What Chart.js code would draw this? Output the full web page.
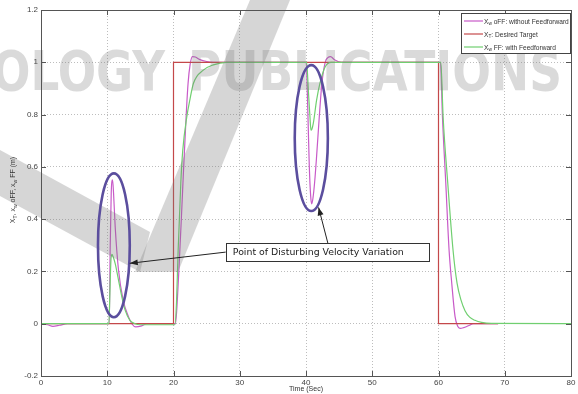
<!DOCTYPE html>
<html>
<head>
<meta charset="utf-8">
<script src="https://cdn.jsdelivr.net/npm/chart.js@4.4.1/dist/chart.umd.min.js"></script>
<style>
  html, body { margin: 0; padding: 0; background: #fff; }
  #wrap { width: 578px; height: 394px; }
</style>
</head>
<body>
<div id="wrap"><canvas id="chart-grafic" width="578" height="394"></canvas></div>
<script>
/* X_w oFF: without feedforward */
const offTime = [0, 1, 1.8, 2.8, 4, 10.3, 10.45, 10.6, 10.8, 10.95, 11.2, 11.7, 12.4, 13.2, 13.7, 14.3, 15.2, 16,
  20.3, 20.6, 20.9, 21.2, 21.5, 21.9, 22.2, 22.5, 22.85, 23.3, 24, 25, 26,
  40, 40.1, 40.3, 40.5, 40.7, 40.86, 41.05, 41.3, 41.6, 42, 42.4, 42.9, 43.3, 43.7, 44.3, 45.4,
  60.3, 60.6, 61.1, 61.6, 62, 62.5, 62.9, 63.25, 63.8, 64.5, 65.3, 69]
const offValues = [0, -0.004, -0.01, -0.006, 0, 0, 0.3, 0.5, 0.55, 0.5, 0.37, 0.205, 0.09, 0.027, 0, -0.012, -0.008, 0,
  0, 0.1, 0.25, 0.41, 0.58, 0.79, 0.92, 0.99, 1.022, 1.02, 1.01, 1.003, 1,
  1, 0.97, 0.79, 0.6, 0.49, 0.458, 0.48, 0.54, 0.64, 0.79, 0.92, 1, 1.018, 1.022, 1.01, 1,
  1, 0.79, 0.537, 0.28, 0.155, 0.027, -0.01, -0.018, -0.015, -0.008, 0, 0]

/* X_T: desired target */
const targetTime = [0, 20, 20, 60, 60, 69]
const targetValues = [0, 0, 1, 1, 0, 0]

/* X_w FF: with feedforward */
const ffTime = [0, 10.25, 10.4, 10.55, 10.7, 10.9, 11.2, 11.7, 12.2, 12.7, 13.4, 14.2, 15,
  20.2, 20.45, 20.7, 21.1, 21.4, 22, 22.5, 23, 24.5, 26, 28,
  40.1, 40.35, 40.6, 40.75, 40.9, 41.1, 41.6, 42.1, 42.9, 43.8,
  60.35, 60.7, 61.4, 62.2, 62.8, 63.4, 64, 64.7, 65.5, 66.5, 68, 80]
const ffValues = [0, 0, 0.12, 0.24, 0.265, 0.255, 0.23, 0.167, 0.103, 0.052, 0.014, 0, -0.004,
  -0.004, 0.08, 0.28, 0.537, 0.664, 0.79, 0.86, 0.919, 0.97, 0.99, 1,
  1, 0.894, 0.79, 0.74, 0.745, 0.766, 0.855, 0.919, 0.983, 1,
  1, 0.79, 0.537, 0.28, 0.155, 0.09, 0.05, 0.025, 0.013, 0.005, 0.001, 0]

const xTicks = [0, 10, 20, 30, 40, 50, 60, 70, 80]
const yTicks = [-0.2, 0, 0.2, 0.4, 0.6, 0.8, 1, 1.2]

const legendLabels = [
  [['X', 0], ['w', 1], [' oFF: without Feedforward', 0]],
  [['X', 0], ['T', 1], [': Desired Target', 0]],
  [['X', 0], ['w', 1], [' FF: with Feedforward', 0]]
]
const yTitle = [['X', 0], ['T', 1], [', x', 0], ['w', 1], [' oFF, x', 0], ['w', 1], [' FF (m)', 0]]
const xTitle = 'Time (Sec)'
const noteText = 'Point of Disturbing Velocity Variation'

const colors = ['#c85ac8', '#c4484a', '#70cf70']
const narrow = '"Liberation Sans Narrow", "Liberation Sans", Arial, sans-serif'

/* ellipses and note, in data units */
const rings = [{ x: 11.0, y: 0.30, rx: 2.4, ry: 0.275 }, { x: 40.8, y: 0.71, rx: 2.5, ry: 0.279 }]
const noteBox = { x0: 27.9, x1: 58.6, y0: 0.24, y1: 0.308 }
const arrows = [
  { from: [27.9, 0.274], to: [13.4, 0.231] },
  { from: [43.3, 0.308], to: [41.9, 0.445] }
]

function toPoints(t, v) {
  return t.map((x, i) => ({ x: x, y: v[i] }))
}

function partsWidth(ctx, parts, size, family) {
  let w = 0
  parts.forEach(p => {
    ctx.font = (p[1] ? size * 0.72 : size) + 'px ' + family
    w += ctx.measureText(p[0]).width
  })
  return w
}

function drawParts(ctx, parts, x, y, size, family) {
  parts.forEach(p => {
    ctx.font = (p[1] ? size * 0.72 : size) + 'px ' + family
    ctx.fillText(p[0], x, p[1] ? y + size * 0.3 : y)
    x += ctx.measureText(p[0]).width
  })
}

const watermark = {
  id: 'watermark',
  afterDatasetsDraw(chart) {
    const ctx = chart.ctx
    ctx.save()
    ctx.fillStyle = 'rgba(120,120,120,0.3)'
    ctx.beginPath()
    ctx.moveTo(0, 150); ctx.lineTo(150, 232); ctx.lineTo(140, 272); ctx.lineTo(0, 196)
    ctx.closePath(); ctx.fill()
    ctx.beginPath()
    ctx.moveTo(135, 272); ctx.lineTo(178, 272); ctx.lineTo(290, 0); ctx.lineTo(250, 0)
    ctx.closePath(); ctx.fill()
    ctx.fillStyle = 'rgba(120,120,120,0.27)'
    ctx.font = 'bold 56px "DejaVu Sans", sans-serif'
    ctx.textBaseline = 'alphabetic'
    const words = [['OLOGY', -8, 165], ['PUBLICATIONS', 188, 562]]
    words.forEach(w => {
      const m = ctx.measureText(w[0]).width
      ctx.save()
      ctx.translate(w[1], 90)
      ctx.scale((w[2] - w[1]) / m, 1)
      ctx.fillText(w[0], 0, 0)
      ctx.restore()
    })
    ctx.restore()
  }
}

const notes = {
  id: 'notes',
  afterDatasetsDraw(chart) {
    const ctx = chart.ctx, xs = chart.scales.x, ys = chart.scales.y
    ctx.save()
    ctx.strokeStyle = '#5b4e9e'
    ctx.lineWidth = 2.6
    rings.forEach(r => {
      const cx = xs.getPixelForValue(r.x), cy = ys.getPixelForValue(r.y)
      const rx = Math.abs(xs.getPixelForValue(r.x + r.rx) - cx)
      const ry = Math.abs(ys.getPixelForValue(r.y + r.ry) - cy)
      ctx.beginPath()
      ctx.ellipse(cx, cy, rx, ry, 0, 0, Math.PI * 2)
      ctx.stroke()
    })
    ctx.strokeStyle = '#222'
    ctx.fillStyle = '#222'
    ctx.lineWidth = 1
    arrows.forEach(a => {
      const x0 = xs.getPixelForValue(a.from[0]), y0 = ys.getPixelForValue(a.from[1])
      const x1 = xs.getPixelForValue(a.to[0]), y1 = ys.getPixelForValue(a.to[1])
      const ang = Math.atan2(y1 - y0, x1 - x0)
      ctx.beginPath(); ctx.moveTo(x0, y0); ctx.lineTo(x1, y1); ctx.stroke()
      ctx.beginPath()
      ctx.moveTo(x1, y1)
      ctx.lineTo(x1 - 8 * Math.cos(ang) + 3 * Math.sin(ang), y1 - 8 * Math.sin(ang) - 3 * Math.cos(ang))
      ctx.lineTo(x1 - 8 * Math.cos(ang) - 3 * Math.sin(ang), y1 - 8 * Math.sin(ang) + 3 * Math.cos(ang))
      ctx.closePath(); ctx.fill()
    })
    const bx0 = xs.getPixelForValue(noteBox.x0), bx1 = xs.getPixelForValue(noteBox.x1)
    const by0 = ys.getPixelForValue(noteBox.y1), by1 = ys.getPixelForValue(noteBox.y0)
    ctx.fillStyle = '#fff'
    ctx.fillRect(bx0, by0, bx1 - bx0, by1 - by0)
    ctx.strokeStyle = '#333'
    ctx.strokeRect(Math.round(bx0) + 0.5, Math.round(by0) + 0.5, Math.round(bx1 - bx0), Math.round(by1 - by0))
    ctx.font = '10px "DejaVu Sans", sans-serif'
    const size = 10 * 171 / ctx.measureText(noteText).width
    ctx.font = size + 'px "DejaVu Sans", sans-serif'
    ctx.fillStyle = '#222'
    ctx.textBaseline = 'middle'
    ctx.fillText(noteText, bx0 + 7, (by0 + by1) / 2 + 0.5)
    ctx.restore()
  }
}

const frame = {
  id: 'frame',
  afterDraw(chart) {
    const ctx = chart.ctx, a = chart.chartArea, xs = chart.scales.x, ys = chart.scales.y
    ctx.save()
    ctx.strokeStyle = '#555'
    ctx.lineWidth = 1
    ctx.strokeRect(Math.round(a.left) + 0.5, Math.round(a.top) + 0.5, Math.round(a.right - a.left), Math.round(a.bottom - a.top))
    ctx.beginPath()
    xTicks.forEach(v => {
      const x = Math.round(xs.getPixelForValue(v)) + 0.5
      ctx.moveTo(x, a.bottom); ctx.lineTo(x, a.bottom - 5)
      ctx.moveTo(x, a.top); ctx.lineTo(x, a.top + 5)
    })
    yTicks.forEach(v => {
      const y = Math.round(ys.getPixelForValue(v)) + 0.5
      ctx.moveTo(a.left, y); ctx.lineTo(a.left + 5, y)
      ctx.moveTo(a.right, y); ctx.lineTo(a.right - 5, y)
    })
    ctx.stroke()

    /* y title with subscripts */
    ctx.fillStyle = '#333'
    ctx.textBaseline = 'alphabetic'
    const tw = partsWidth(ctx, yTitle, 7, narrow)
    ctx.translate(15, (a.top + a.bottom) / 2 - 3)
    ctx.rotate(-Math.PI / 2)
    drawParts(ctx, yTitle, -tw / 2, 0, 7, narrow)
    ctx.restore()

    /* legend */
    ctx.save()
    const bx = Math.round(a.right) - 110, by = Math.round(a.top) + 3, bw = 109, bh = 40
    ctx.fillStyle = '#fff'
    ctx.fillRect(bx, by, bw, bh)
    ctx.strokeStyle = '#444'
    ctx.strokeRect(bx + 0.5, by + 0.5, bw, bh)
    legendLabels.forEach((parts, i) => {
      const y = by + 8 + i * 13
      ctx.strokeStyle = colors[i]
      ctx.lineWidth = 1.2
      ctx.beginPath(); ctx.moveTo(bx + 3, y); ctx.lineTo(bx + 22, y); ctx.stroke()
      ctx.fillStyle = '#333'
      drawParts(ctx, parts, bx + 23, y + 2.5, 6.6, narrow)
    })
    ctx.restore()
  }
}

const chart = new Chart(document.getElementById('chart-grafic'), {
  type: 'line',
  data: {
    datasets: [{
      label: 'X_w oFF: without Feedforward',
      data: toPoints(offTime, offValues),
      borderColor: colors[0],
      borderWidth: 1.2,
      cubicInterpolationMode: 'monotone',
      order: 2
    }, {
      label: 'X_T: Desired Target',
      data: toPoints(targetTime, targetValues),
      borderColor: colors[1],
      borderWidth: 1.2,
      tension: 0,
      order: 1
    }, {
      label: 'X_w FF: with Feedforward',
      data: toPoints(ffTime, ffValues),
      borderColor: colors[2],
      borderWidth: 1.2,
      cubicInterpolationMode: 'monotone',
      order: 0
    }]
  },
  options: {
    responsive: false,
    animation: false,
    devicePixelRatio: 1,
    parsing: false,
    elements: { point: { radius: 0 } },
    layout: { padding: { top: 10, right: 7, left: 0, bottom: 0 } },
    plugins: { legend: { display: false }, tooltip: { enabled: false } },
    scales: {
      x: {
        type: 'linear',
        min: 0,
        max: 80,
        afterBuildTicks: s => { s.ticks = xTicks.map(v => ({ value: v })) },
        afterFit: s => { s.height = 18 },
        ticks: { font: { size: 8, family: narrow }, color: '#444', padding: 2, maxRotation: 0 },
        grid: { color: '#bdbdbd', drawTicks: false },
        border: { display: false, dash: [1, 2] },
        title: { display: true, text: xTitle, font: { size: 7, family: narrow }, color: '#333', padding: { top: 0, bottom: 1 } }
      },
      y: {
        type: 'linear',
        min: -0.2,
        max: 1.2,
        afterBuildTicks: s => { s.ticks = yTicks.map(v => ({ value: v })) },
        afterFit: s => { s.width = 41 },
        ticks: { font: { size: 8, family: narrow }, color: '#444', padding: 3, callback: v => String(Math.round(v * 10) / 10) },
        grid: { color: '#bdbdbd', drawTicks: false },
        border: { display: false, dash: [1, 2] }
      }
    }
  },
  plugins: [watermark, notes, frame]
})
</script>
</body>
</html>
